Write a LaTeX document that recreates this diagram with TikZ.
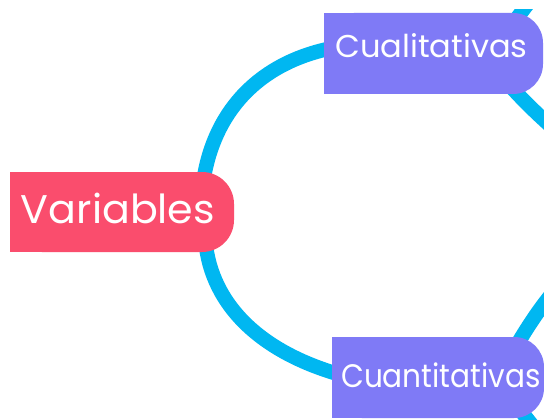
\documentclass[tikz,border=0pt]{standalone}
\usepackage{fontspec}
\setmainfont{Poppins}
\definecolor{pinkbox}{HTML}{FA4D6D}
\definecolor{purplebox}{HTML}{7F7AF6}
\definecolor{linkblue}{HTML}{00B7F1}
\tikzset{
  conn/.style={draw=linkblue, line width=14.5pt},
  boxtext/.style={inner sep=0pt, text=white},
}
\begin{document}
\begin{tikzpicture}[x=1pt,y=-1pt]
\useasboundingbox (0,0) rectangle (544,420);
\fill[white] (0,0) rectangle (544,420);
% named coordinates for connector ends (hidden under boxes)
\coordinate (v1) at (202,192);
\coordinate (v2) at (205,235);
\coordinate (c1) at (338,47);
\coordinate (q1) at (345,376);
\coordinate (c2) at (498,72);
\coordinate (c3) at (500,45);
\coordinate (q2) at (505,365);
\coordinate (q3) at (510,395);
\coordinate (e1) at (562,136);
\coordinate (e2) at (548,-22);
\coordinate (e3) at (562,282);
\coordinate (e4) at (548,445);
\begin{scope}
\clip (0,10) rectangle (544,420);
\draw[conn] (v1) .. controls (210,110) and (262,60) .. (c1);
\draw[conn] (v2) .. controls (208,300) and (256,352) .. (q1);
\draw[conn] (c2) .. controls (515,92) and (532,110) .. (e1);
\draw[conn] (c3) .. controls (515,20) .. (e2);
\draw[conn] (q2) .. controls (520,340) and (535,312) .. (e3);
\draw[conn] (q3) .. controls (520,410) .. (e4);
\end{scope}
% boxes
\fill[pinkbox, rounded corners=32pt] (10,172) rectangle (234,252);
\fill[pinkbox] (10,172) rectangle (60,252);
\fill[purplebox, rounded corners=30pt] (324,13) rectangle (543,94);
\fill[purplebox] (324,13) rectangle (380,94);
\fill[purplebox, rounded corners=30pt] (332,337) rectangle (544,418);
\fill[purplebox] (332,337) rectangle (390,418);
\node[boxtext, anchor=base, font=\fontsize{40}{40}\selectfont] (v) at (118,223) {\scalebox{1.03}[1]{Variables}};
\node[boxtext, anchor=base, font=\fontsize{31.5}{31.5}\selectfont] (c) at (431.5,58) {\scalebox{1.02}[1]{Cualitativas}};
\node[boxtext, anchor=base, font=\fontsize{32.5}{32.5}\selectfont] (q) at (441,387) {\scalebox{0.91}[1]{Cuantitativas}};
\end{tikzpicture}
\end{document}
